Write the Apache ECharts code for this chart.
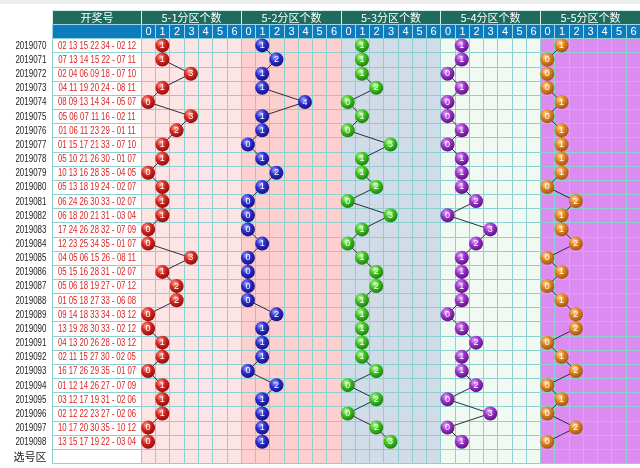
<!DOCTYPE html>
<html>
<head>
<meta charset="utf-8">
<script src="https://cdn.jsdelivr.net/npm/echarts@6/dist/echarts.min.js"></script>
<style>
  html, body { margin: 0; padding: 0; background: #fff; }
  #chart { width: 640px; height: 468px; }
</style>
</head>
<body>
<div id="chart"></div>
<script>
// 期号
const periods = [
  "2019070", "2019071", "2019072", "2019073", "2019074", "2019075", "2019076", "2019077",
  "2019078", "2019079", "2019080", "2019081", "2019082", "2019083", "2019084", "2019085",
  "2019086", "2019087", "2019088", "2019089", "2019090", "2019091", "2019092", "2019093",
  "2019094", "2019095", "2019096", "2019097", "2019098",
];

// 开奖号
const draws = [
  "02 13 15 22 34 - 02 12", "07 13 14 15 22 - 07 11", "02 04 06 09 18 - 07 10", "04 11 19 20 24 - 08 11",
  "08 09 13 14 34 - 05 07", "05 06 07 11 16 - 02 11", "01 06 11 23 29 - 01 11", "01 15 17 21 33 - 07 10",
  "05 10 21 26 30 - 01 07", "10 13 16 28 35 - 04 05", "05 13 18 19 24 - 02 07", "06 24 26 30 33 - 02 07",
  "06 18 20 21 31 - 03 04", "17 24 26 28 32 - 07 09", "12 23 25 34 35 - 01 07", "04 05 06 15 26 - 08 11",
  "05 15 16 28 31 - 02 07", "05 06 18 19 27 - 07 12", "01 05 18 27 33 - 06 08", "09 14 18 33 34 - 03 12",
  "13 19 28 30 33 - 02 12", "04 13 20 26 28 - 03 12", "02 11 15 27 30 - 02 05", "16 17 26 29 35 - 01 07",
  "01 12 14 26 27 - 07 09", "03 12 17 19 31 - 02 06", "02 12 22 23 27 - 02 06", "10 17 20 30 35 - 10 12",
  "13 15 17 19 22 - 03 04",
];

// 分区个数
const zone1 = [1, 1, 3, 1, 0, 3, 2, 1, 1, 0, 1, 1, 1, 0, 0, 3, 1, 2, 2, 0, 0, 1, 1, 0, 1, 1, 1, 0, 0];
const zone2 = [1, 2, 1, 1, 4, 1, 1, 0, 1, 2, 1, 0, 0, 0, 1, 0, 0, 0, 0, 2, 1, 1, 1, 0, 2, 1, 1, 1, 1];
const zone3 = [1, 1, 1, 2, 0, 1, 0, 3, 1, 1, 2, 0, 3, 1, 0, 1, 2, 2, 1, 1, 1, 1, 1, 2, 0, 2, 0, 2, 3];
const zone4 = [1, 1, 0, 1, 0, 0, 1, 0, 1, 1, 1, 2, 0, 3, 2, 1, 1, 1, 1, 0, 1, 2, 1, 1, 2, 0, 3, 0, 1];
const zone5 = [1, 0, 0, 0, 1, 0, 1, 1, 1, 1, 0, 2, 1, 1, 2, 0, 1, 0, 1, 2, 2, 0, 1, 2, 0, 1, 0, 2, 0];

const sectionTitles = ["5-1分区个数", "5-2分区个数", "5-3分区个数", "5-4分区个数", "5-5分区个数"];
const digitLabels = ["0", "1", "2", "3", "4", "5", "6"];
const drawHeader = "开奖号";
const footerLabel = "选号区";

const zones = [zone1, zone2, zone3, zone4, zone5];

// 样式
const NUM_COL = 6.24; // 开奖号列宽 (以格为单位)
const CELLS = 7;
const HEAD_TEAL = "#1f6c5f";
const HEAD_BLUE = "#0c7cbf";
const BORDER = "#8ecfcf";
const SECTION_BG = ["#fde5e5", "#fdcfcf", "#d0dde8", "#f0faf3", "#dc8cf0"];
const BALL_COLORS = [
  ["#ffb0a8", "#d8261e", "#8c0c0c"],
  ["#a8a8ff", "#2c2cd0", "#12127a"],
  ["#c8ffa8", "#3fc223", "#1b7a0c"],
  ["#eab0ff", "#9c34cc", "#58107a"],
  ["#ffd8a0", "#e0841e", "#9c5010"],
];

const yCats = ["", "", ...periods, footerLabel];

function ballGradient(c) {
  return new echarts.graphic.RadialGradient(0.38, 0.32, 0.72, [
    { offset: 0, color: c[0] },
    { offset: 0.45, color: c[1] },
    { offset: 1, color: c[2] },
  ]);
}

function renderRow(params, api) {
  const row = api.value(1);
  const h = api.size([0, 1])[1];
  const yc = api.coord([0, row])[1];
  const top = Math.round(yc - h / 2) + 0.5;
  const bottom = Math.round(yc + h / 2) + 0.5;
  const px = (v) => Math.round(api.coord([v, row])[0]) + 0.5;
  const children = [];

  const cell = (a, b, fill, stroke) => {
    children.push({
      type: "rect",
      shape: { x: px(a), y: top, width: px(b) - px(a), height: bottom - top },
      style: { fill, stroke, lineWidth: 1 },
    });
  };
  const text = (x, str, fill, font, align, scaleX) => {
    children.push({
      type: "text",
      x,
      y: yc + 0.5,
      scaleX: scaleX || 1,
      style: { text: str, fill, font, align, verticalAlign: "middle" },
    });
  };
  const label = (a, b, str, fill, font, scaleX) => text((px(a) + px(b)) / 2, str, fill, font, "center", scaleX);

  if (row === 0) {
    cell(-NUM_COL, 0, HEAD_TEAL, "#d8ecec");
    label(-NUM_COL, 0, drawHeader, "#fff", "11px 'Noto Sans CJK SC'");
    sectionTitles.forEach((t, s) => {
      cell(s * CELLS, (s + 1) * CELLS, HEAD_TEAL, "#d8ecec");
      label(s * CELLS, (s + 1) * CELLS, t, "#fff", "11px 'Noto Sans CJK SC'");
    });
  } else if (row === 1) {
    cell(-NUM_COL, 0, HEAD_BLUE, "#9fd6e6");
    for (let s = 0; s < sectionTitles.length; s++) {
      for (let d = 0; d < CELLS; d++) {
        const a = s * CELLS + d;
        cell(a, a + 1, HEAD_BLUE, "#9fd6e6");
        label(a, a + 1, digitLabels[d], "#fff", "11px 'Liberation Sans'");
      }
    }
  } else {
    // 期号 / 选号区
    const name = yCats[row];
    const isFooter = row === yCats.length - 1;
    text(px(-NUM_COL) - 6, name, "#222",
      isFooter ? "11px 'Noto Sans CJK SC'" : "10.5px 'Liberation Sans'", "right", isFooter ? 1 : 0.76);

    cell(-NUM_COL, 0, "#ffffff", BORDER);
    const str = draws[row - 2];
    if (str) label(-NUM_COL, 0, str, "#dd2222", "10.5px 'Liberation Sans'", 0.74);
    for (let s = 0; s < sectionTitles.length; s++) {
      for (let d = 0; d < CELLS; d++) {
        const a = s * CELLS + d;
        cell(a, a + 1, SECTION_BG[s], BORDER);
      }
    }
  }
  return { type: "group", children };
}

const tableSeries = {
  type: "custom",
  z: 1,
  silent: true,
  clip: false,
  renderItem: renderRow,
  encode: { x: 0, y: 1 },
  data: yCats.map((_, i) => [0, i]),
};

const ballSeries = zones.map((zone, s) => ({
  type: "line",
  z: 5,
  silent: true,
  data: zone.map((v, i) => [s * CELLS + v + 0.5, i + 2, v]),
  encode: { x: 0, y: 1 },
  symbol: "circle",
  symbolSize: 14,
  showSymbol: true,
  showAllSymbol: true,
  lineStyle: { color: "#2c2c3c", width: 1 },
  itemStyle: { color: ballGradient(BALL_COLORS[s]) },
  label: {
    show: true,
    position: "inside",
    formatter: (p) => p.value[2],
    color: "#ffffff",
    fontSize: 9,
    fontFamily: "Liberation Sans",
  },
  emphasis: { disabled: true },
}));

const chart = echarts.init(document.getElementById("chart"));
chart.setOption({
  animation: false,
  graphic: [
    { type: "rect", shape: { x: 0, y: 0, width: 640, height: 4 }, style: { fill: "#eeeeee" } },
  ],
  grid: { left: 52, right: 0, top: 10, bottom: 5 },
  xAxis: { type: "value", min: -NUM_COL, max: 35, show: false },
  yAxis: {
    type: "category",
    data: yCats,
    inverse: true,
    axisLine: { show: false },
    axisTick: { show: false },
    splitLine: { show: false },
    axisLabel: { show: false, interval: 0 },
  },
  series: [tableSeries, ...ballSeries],
});
</script>
</body>
</html>
